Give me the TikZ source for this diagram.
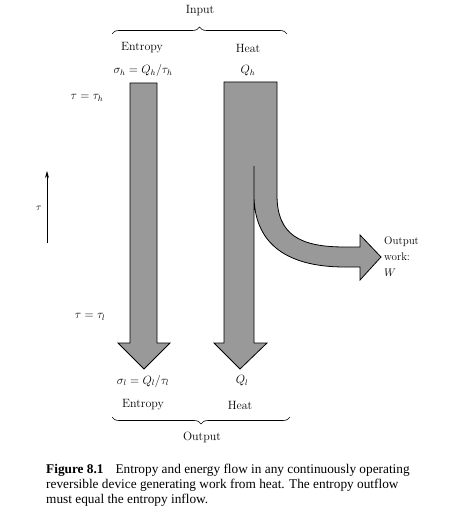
\documentclass[tikz,border=0pt]{standalone}
\usepackage{fontspec}
\newfontfamily\capfont{Liberation Serif}
\usetikzlibrary{decorations.pathreplacing,arrows.meta}
\begin{document}
\begin{tikzpicture}[x=1pt,y=-1pt,
  lbl/.style={font=\fontsize{12}{14}\selectfont, inner sep=0pt},
  flow/.style={fill=black!40, draw=black, line width=0.8pt, line join=miter},
  bracestyle/.style={decorate, decoration={brace, amplitude=7pt}, line width=0.6pt}]
\useasboundingbox (0,0) rectangle (448,526);
% labels
\node[lbl] (input) at (200,11) {Input};
\node[lbl] (entin) at (142,48) {Entropy};
\node[lbl] (heatin) at (248,48) {Heat};
\node[lbl] (sigh) at (143,71) {$\sigma_h = Q_h/\tau_h$};
\node[lbl] (qh) at (248,71) {$Q_h$};
\node[lbl] (tauh) at (87,98) {$\tau = \tau_h$};
\node[lbl] (taul) at (90,317) {$\tau = \tau_l$};
\node[lbl] (sigl) at (143,381) {$\sigma_l = Q_l/\tau_l$};
\node[lbl] (ql) at (242,381) {$Q_l$};
\node[lbl] (entout) at (143,405) {Entropy};
\node[lbl] (heatout) at (240,405) {Heat};
\node[lbl] (output) at (202,437) {Output};
\node[lbl, anchor=west, align=left, font=\fontsize{11}{16}\selectfont] (work) at (384,257) {Output\\work:\\$W$};
\node[lbl, font=\fontsize{10}{12}\selectfont] (tau) at (39,208) {$\tau$};
% braces
\coordinate (tbl) at (112,34);
\coordinate (tbr) at (287,34);
\coordinate (bbl) at (112,417);
\coordinate (bbr) at (290,417);
\draw[bracestyle] (tbl) -- (tbr);
\draw[bracestyle] (bbr) -- (bbl);
% tau axis
\coordinate (ta) at (47,243);
\coordinate (tb) at (47,171);
\draw[line width=0.8pt, -{Stealth[length=7pt,width=4pt]}] (ta) -- (tb);
% entropy arrow
\draw[flow] (130,83) -- (157,83) -- (157,343) -- (170,343) -- (144,369) -- (118,343) -- (130,343) -- cycle;
% heat arrow with work branch
\draw[flow] (224,82) -- (277,82) -- (277,195)
  .. controls (277,235) and (300,247) .. (345,247) -- (360,247) -- (360,235) -- (381,257) -- (360,280) -- (360,267) -- (345,267)
  .. controls (282,267) and (254,240) .. (254,195) -- (254,166) -- (254,343) -- (267,343) -- (240,369) -- (214,343) -- (224,343) -- cycle;
% caption
\node[anchor=north west, align=left, inner sep=0pt, font=\capfont\fontsize{13.3}{15.2}\selectfont] (cap) at (46,464)
{\textbf{Figure 8.1}\hspace{0.9em}Entropy and energy flow in any continuously operating\\
reversible device generating work from heat. The entropy outflow\\
must equal the entropy inflow.};
\end{tikzpicture}
\end{document}
